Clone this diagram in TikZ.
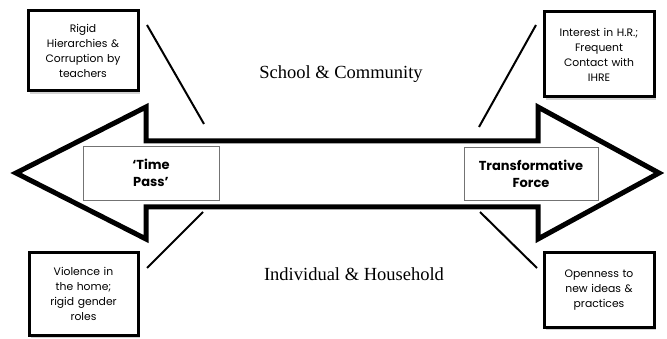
\documentclass[tikz,border=0pt]{standalone}
\usepackage{fontspec}
\setmainfont{Liberation Serif}
\newfontfamily\boxfont{Poppins}
\usetikzlibrary{shadows}
\tikzset{
    factor/.style={draw=black,line width=3pt,fill=white,align=center,inner sep=0pt,
        text width=104pt,drop shadow={opacity=0.35,shadow xshift=2pt,shadow yshift=-3pt},
        font=\boxfont\fontsize{10.8}{15}\selectfont},
    pole/.style={draw=black!55,line width=0.8pt,fill=white,align=center,inner sep=0pt,
        font=\boxfont\bfseries\fontsize{13}{17}\selectfont},
    link/.style={line width=2pt},
    level/.style={font=\fontsize{18.5}{22}\selectfont}
}
\begin{document}
\begin{tikzpicture}[x=1pt,y=-1pt]
        \useasboundingbox (0,0) rectangle (667,339);
        %% double headed arrow
        \draw[line width=5pt,miter limit=10,fill=white] (16,173) -- (146,107) -- (146,141) -- (538,141) -- (538,107)
            -- (659,173) -- (538,239) -- (538,207) -- (146,207) -- (146,239) -- cycle;
        %% ends of the arrow
        \node[pole,minimum width=136pt,minimum height=54pt] (timepass) at (151,173) {‘Time\\Pass’};
        \node[pole,minimum width=134pt,minimum height=53pt] (force) at (531,173.5) {Transformative\\Force};
        %% levels
        \node[level] (school) at (341,74) {School \& Community};
        \node[level] (household) at (354,274) {Individual \& Household};
        %% factors
        \node[factor,minimum width=110pt,minimum height=80pt] (rigid) at (83,51) {Rigid\\Hierarchies \&\\Corruption by\\teachers};
        \node[factor,minimum width=110pt,minimum height=85pt] (interest) at (599,54.5) {Interest in H.R.;\\Frequent\\Contact with\\IHRE};
        \node[factor,minimum width=109pt,minimum height=82pt] (violence) at (83.5,294) {Violence in\\the home;\\rigid gender\\roles};
        \node[factor,minimum width=110pt,minimum height=74pt] (openness) at (599,290) {Openness to\\new ideas \&\\practices};
        %% lines towards the arrow
        \coordinate (tl) at (204,124);
        \coordinate (tr) at (479,127);
        \coordinate (bl) at (203,212);
        \coordinate (br) at (480,212);
        \draw[link] (147,25) -- (tl);
        \draw[link] (536,25) -- (tr);
        \draw[link] (147,268) -- (bl);
        \draw[link] (537,268) -- (br);
    \end{tikzpicture}
\end{document}
